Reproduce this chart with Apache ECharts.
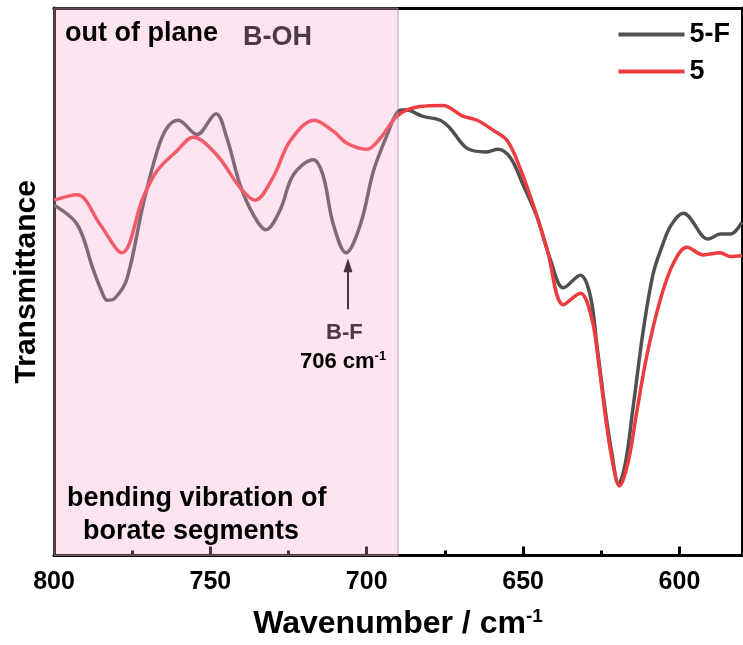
<!DOCTYPE html>
<html>
<head>
<meta charset="utf-8">
<script src="https://cdn.jsdelivr.net/npm/echarts@6/dist/echarts.min.js"></script>
<style>html,body{margin:0;padding:0;background:#fff}#c{width:743px;height:645px}</style>
</head>
<body>
<div id="c"></div>
<script>
// Wavenumber (cm-1) and transmittance (a.u.) for sample 5-F
const wn5F = [800, 792.6, 787.5, 785, 783, 780.5, 776.7, 771.5, 767, 764, 760.3, 754.3, 748.2, 744.7, 740.5, 736.3, 732.2, 727.7, 723.5, 717.1, 714, 710.7, 706.6, 702, 697.8, 693.5, 690, 687.7, 682, 676.5, 673.3, 668, 662, 658, 654, 650, 645.5, 641.3, 637.1, 631.7, 628.5, 626.4, 623.7, 621.6, 619.5, 617.3, 614.7, 611.5, 608.4, 605.6, 602.8, 598.8, 592.4, 590.8, 587, 583.7, 580];
const t5F = [64.0, 60.5, 52.3, 48.6, 46.6, 47.0, 50.5, 64.1, 73.9, 78.0, 79.5, 76.9, 80.7, 76.2, 67.7, 62.3, 59.5, 63.1, 69.5, 72.3, 69.5, 60.5, 55.3, 60.5, 70.3, 76.8, 81.1, 81.4, 80.2, 79.5, 78.0, 74.4, 73.7, 74.2, 72.6, 67.7, 61.8, 54.1, 48.9, 51.2, 47.4, 38.4, 26.4, 18.6, 13.0, 16.8, 27.6, 41.4, 51.5, 56.4, 60.2, 62.5, 58.2, 57.8, 58.7, 58.7, 60.9];
// Sample 5
const wn5 = [800, 792.6, 785.3, 778.3, 771.5, 767, 760.7, 755.5, 748, 740.5, 735.7, 730, 724.5, 716.8, 710.7, 706.3, 700, 695.7, 690, 683, 675.6, 669.5, 664.7, 659.6, 655, 651, 646.8, 642.3, 637.1, 631.7, 628.0, 625.9, 623.2, 621.1, 619.2, 616.3, 613.6, 610.4, 606.1, 602.0, 597.6, 592.4, 587, 583.7, 580];
const t5 = [64.9, 65.9, 60.5, 55.3, 65.4, 70.3, 73.9, 76.4, 73.2, 67.2, 64.9, 69.0, 75.7, 79.5, 77.5, 75.3, 74.2, 76.2, 80.4, 82.0, 82.2, 80.3, 79.5, 77.7, 75.7, 70.8, 64.1, 55.9, 45.8, 47.9, 43.2, 35.4, 23.4, 16.2, 12.7, 17.4, 26.4, 36.6, 46.8, 53.3, 56.3, 54.9, 55.3, 54.6, 54.8];
const majorTicks = [800, 750, 700, 650, 600];
const minorTicks = [775, 725, 675, 625];
const shadeRange = [800, 690];
const bfPeak = 706;
const arrowY = [45.0, 53.0];

const zip = (a, b) => a.map((v, i) => [v, b[i]]);
const FONT = 'Liberation Sans, Arial, sans-serif';

const chart = echarts.init(document.getElementById('c'), null, {renderer: 'canvas'});
const xBase = {type: 'value', min: 580, max: 800, inverse: true, splitLine: {show: false}};
chart.setOption({
  animation: false,
  backgroundColor: '#fff',
  grid: {left: 54, right: 1, top: 8, bottom: 82, containLabel: false},
  legend: {
    orient: 'vertical', right: 8, top: 16, itemWidth: 66, itemHeight: 4, itemGap: 10,
    icon: 'rect',
    textStyle: {fontFamily: FONT, fontWeight: 'bold', fontSize: 27, color: '#000'},
    data: ['5-F', '5']
  },
  xAxis: [
    Object.assign({}, xBase, {
      position: 'bottom',
      name: 'Wavenumber / cm{s|-1}', nameLocation: 'middle', nameGap: 52,
      nameTextStyle: {fontFamily: FONT, fontWeight: 'bold', fontSize: 32, color: '#000',
        rich: {s: {fontFamily: FONT, fontWeight: 'bold', fontSize: 19, verticalAlign: 'top', padding: [0,0,14,0]}}},
      axisLine: {show: true, onZero: false, lineStyle: {color: '#000', width: 3}},
      axisTick: {show: true, inside: true, length: 9, customValues: majorTicks, lineStyle: {color: '#000', width: 3}},
      axisLabel: {show: true, customValues: majorTicks, margin: 14, fontFamily: FONT, fontWeight: 'bold', fontSize: 25, color: '#000'}
    }),
    Object.assign({}, xBase, {
      position: 'bottom',
      axisLine: {show: false},
      axisTick: {show: true, inside: true, length: 5, customValues: minorTicks, lineStyle: {color: '#000', width: 3}},
      axisLabel: {show: false}
    }),
    Object.assign({}, xBase, {
      position: 'top',
      axisLine: {show: true, onZero: false, lineStyle: {color: '#000', width: 3}},
      axisTick: {show: false}, axisLabel: {show: false}
    })
  ],
  yAxis: [
    {type: 'value', min: 0, max: 100, position: 'left',
     name: 'Transmittance', nameLocation: 'middle', nameGap: 12, nameRotate: 90,
     nameTextStyle: {fontFamily: FONT, fontWeight: 'bold', fontSize: 30, color: '#000'},
     axisLine: {show: true, onZero: false, lineStyle: {color: '#000', width: 3}},
     axisTick: {show: false}, axisLabel: {show: false}, splitLine: {show: false}},
    {type: 'value', min: 0, max: 100, position: 'right',
     axisLine: {show: true, onZero: false, lineStyle: {color: '#000', width: 3}},
     axisTick: {show: false}, axisLabel: {show: false}, splitLine: {show: false}}
  ],
  series: [
    {name: '5-F', type: 'line', data: zip(wn5F, t5F), smooth: 0.35, symbol: 'none', z: 2,
     color: '#505050', lineStyle: {color: '#505050', width: 3.5}},
    {name: '5', type: 'line', data: zip(wn5, t5), smooth: 0.35, symbol: 'none', z: 3,
     color: '#ee3b3f', lineStyle: {color: '#ee3b3f', width: 3.5}},
    {name: 'shade', type: 'line', data: [], z: 10, silent: true,
     markArea: {silent: true, z: 10,
       itemStyle: {color: 'rgba(248,165,205,0.3)', borderColor: 'rgba(150,130,140,0.7)', borderWidth: 1},
       data: [[{xAxis: shadeRange[0]}, {xAxis: shadeRange[1]}]]}},
    {name: 'arrow', type: 'line', data: [], zlevel: 1, z: 20, silent: true,
     markLine: {silent: true, symbol: ['none', 'triangle'], symbolSize: [9, 14], animation: false,
       label: {show: false}, lineStyle: {color: '#000', width: 2, type: 'solid'},
       itemStyle: {color: '#000'},
       data: [[{coord: [bfPeak, arrowY[0]]}, {coord: [bfPeak, arrowY[1]]}]]}}
  ],
  graphic: [
    {type: 'text', left: 65, top: 20, z: 100, style: {text: 'out of plane', fontFamily: FONT, fontWeight: 'bold', fontSize: 27, fill: '#000'}},
    {type: 'text', left: 243, top: 24, z: 100, style: {text: 'B-OH', fontFamily: FONT, fontWeight: 'bold', fontSize: 27, fill: '#4b3a45'}},
    {type: 'text', left: 326, top: 322, z: 100, style: {text: 'B-F', fontFamily: FONT, fontWeight: 'bold', fontSize: 22, fill: '#4b3a45'}},
    {type: 'text', left: 300, top: 350, z: 100, style: {
      text: '706 cm{s|-1}', fontFamily: FONT, fontWeight: 'bold', fontSize: 22, fill: '#000',
      rich: {s: {fontFamily: FONT, fontWeight: 'bold', fontSize: 13, fill: '#000', verticalAlign: 'top', padding: [0,0,10,0]}}}},
    {type: 'text', left: 67, top: 485, z: 100, style: {text: 'bending vibration of', fontFamily: FONT, fontWeight: 'bold', fontSize: 27, fill: '#000'}},
    {type: 'text', left: 83, top: 518, z: 100, style: {text: 'borate segments', fontFamily: FONT, fontWeight: 'bold', fontSize: 27, fill: '#000'}}
  ]
});
</script>
</body>
</html>
